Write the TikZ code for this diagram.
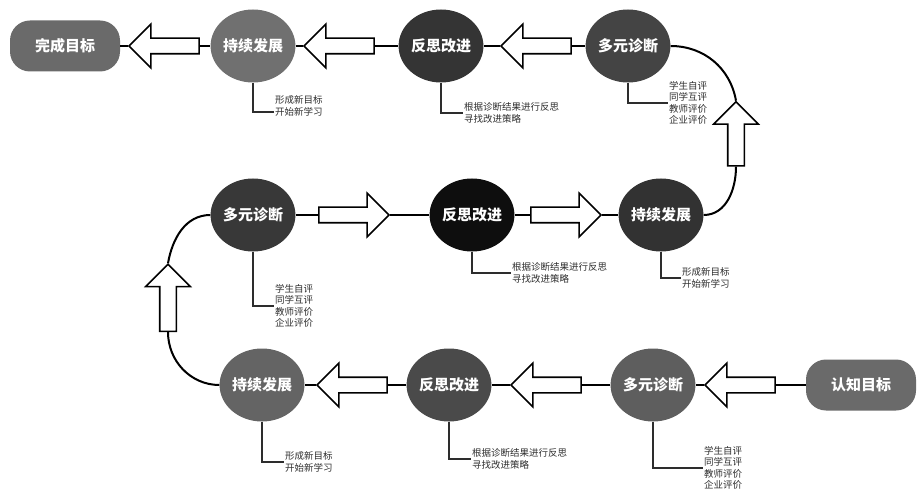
\documentclass[tikz,border=0pt]{standalone}
\usepackage{fontspec}
\setmainfont{Noto Sans CJK SC}
\definecolor{goalgray}{RGB}{106,106,106}
\definecolor{toneA}{RGB}{112,112,112}
\definecolor{toneB}{RGB}{52,52,52}
\definecolor{toneC}{RGB}{68,68,68}
\definecolor{toneD}{RGB}{56,56,56}
\definecolor{toneE}{RGB}{14,14,14}
\definecolor{toneF}{RGB}{50,50,50}
\definecolor{toneG}{RGB}{100,100,100}
\definecolor{toneH}{RGB}{74,74,74}
\definecolor{toneI}{RGB}{94,94,94}
\definecolor{notegray}{RGB}{45,45,45}
\usetikzlibrary{arrows.meta,positioning,shapes.geometric,shapes.arrows}

\begin{document}
\begin{tikzpicture}[x=1pt, y=-1pt,
  stage/.style={ellipse, minimum width=80pt, minimum height=73pt, inner sep=0pt,
                text=white, font=\fontsize{15}{18}\selectfont\bfseries},
  goal/.style={rounded corners=20pt, fill=goalgray, minimum width=110pt,
               minimum height=51pt, text=white, font=\fontsize{15}{18}\selectfont\bfseries},
  hollow/.style={single arrow, draw=black, fill=white, line width=1.6pt,
                 inner xsep=0pt, inner ysep=7pt, single arrow head extend=14pt,
                 minimum height=70pt},
  rising/.style={hollow, shape border rotate=90, inner xsep=7.5pt, inner ysep=0pt},
  link/.style={line width=1.4pt},
  turn/.style={line width=2pt},
  note/.style={anchor=west, align=left, inner sep=1pt, text=notegray,
               font=\fontsize{9.5}{11.3}\selectfont},
  tag/.style={line width=1.2pt, notegray}
]
\useasboundingbox (0,0) rectangle (918,489);

% top row
\node[goal] (fin) at (65,46) {完成目标};
\node[stage, fill=toneA] (p1) at (253,46) {持续发展};
\node[stage, fill=toneB] (r1) at (441,46) {反思改进};
\node[stage, fill=toneC] (d1) at (628,46) {多元诊断};
\node[hollow, shape border rotate=180] (a1) at (168,46) {};
\node[hollow, shape border rotate=180] (a2) at (343,46) {};
\node[hollow, shape border rotate=180] (a3) at (540,46) {};
\draw[link] (fin) -- (a1.tip); \draw[link] (a1.tail) -- (p1);
\draw[link] (p1) -- (a2.tip); \draw[link] (a2.tail) -- (r1);
\draw[link] (r1) -- (a3.tip); \draw[link] (a3.tail) -- (d1);

% middle row
\node[stage, fill=toneD] (d2) at (253,215) {多元诊断};
\node[stage, fill=toneE] (r2) at (472,215) {反思改进};
\node[stage, fill=toneF] (p2) at (661,215) {持续发展};
\node[hollow] (a4) at (350,215) {};
\node[hollow] (a5) at (562,215) {};
\draw[link] (d2) -- (a4.tail); \draw[link] (a4.tip) -- (r2);
\draw[link] (r2) -- (a5.tail); \draw[link] (a5.tip) -- (p2);

% bottom row
\node[stage, fill=toneG] (p3) at (262,385) {持续发展};
\node[stage, fill=toneH] (r3) at (449,385) {反思改进};
\node[stage, fill=toneI] (d3) at (653,385) {多元诊断};
\node[goal] (start) at (861,385) {认知目标};
\node[hollow, shape border rotate=180] (a6) at (356,385) {};
\node[hollow, shape border rotate=180] (a7) at (550,385) {};
\node[hollow, shape border rotate=180] (a8) at (744,385) {};
\draw[link] (r3) -- (a6.tail); \draw[link] (a6.tip) -- (p3);
\draw[link] (d3) -- (a7.tail); \draw[link] (a7.tip) -- (r3);
\draw[link] (start) -- (a8.tail); \draw[link] (a8.tip) -- (d3);

% turns between rows
\node[rising, minimum height=64pt] (u1) at (736,138) {};
\node[rising, minimum height=67pt] (u2) at (168,302) {};
\draw[turn] (d1.east) to[out=0, in=100] (u1.tip);
\draw[turn] (u1.tail) to[out=-90, in=0] (p2.east);
\draw[turn] (d2.west) to[out=180, in=80] (u2.tip);
\draw[turn] (u2.tail) to[out=-90, in=180] (p3.west);

% notes
\node[note] (np1) at (274,106) {形成新目标\\开始新学习};
\node[note] (nr1) at (463,113) {根据诊断结果进行反思\\寻找改进策略};
\node[note] (nd1) at (668,103) {学生自评\\同学互评\\教师评价\\企业评价};
\node[note] (nd2) at (274,306) {学生自评\\同学互评\\教师评价\\企业评价};
\node[note] (nr2) at (511,273) {根据诊断结果进行反思\\寻找改进策略};
\node[note] (np2) at (681,278) {形成新目标\\开始新学习};
\node[note] (np3) at (284,462) {形成新目标\\开始新学习};
\node[note] (nr3) at (471,459) {根据诊断结果进行反思\\寻找改进策略};
\node[note] (nd3) at (703,468) {学生自评\\同学互评\\教师评价\\企业评价};
\draw[tag] (p1.south) |- ([yshift=-6pt]np1.west);
\draw[tag] (r1.south) |- (nr1.west);
\draw[tag] (d1.south) |- (nd1.west);
\draw[tag] (d2.south) |- (nd2.west);
\draw[tag] (r2.south) |- (nr2.west);
\draw[tag] (p2.south) |- (np2.west);
\draw[tag] (p3.south) |- (np3.west);
\draw[tag] (r3.south) |- (nr3.west);
\draw[tag] (d3.south) |- (nd3.west);
\end{tikzpicture}
\end{document}
